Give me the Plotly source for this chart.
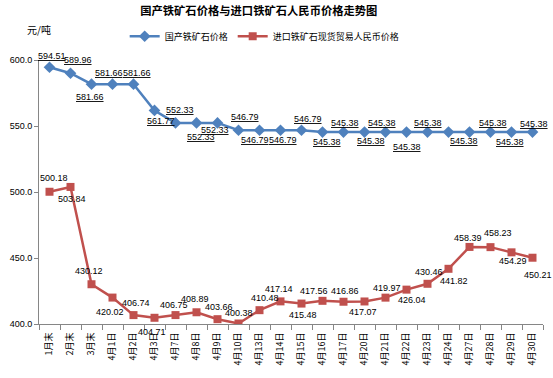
import plotly.graph_objects as go

categories = ["1月末", "2月末", "3月末", "4月1日", "4月2日", "4月3日", "4月7日", "4月8日",
              "4月9日", "4月10日", "4月13日", "4月14日", "4月15日", "4月16日", "4月17日",
              "4月20日", "4月21日", "4月22日", "4月23日", "4月24日", "4月27日", "4月28日",
              "4月29日", "4月30日"]

domestic = [594.51, 589.96, 581.66, 581.66, 581.66, 561.77, 552.33, 552.33, 552.33,
            546.79, 546.79, 546.79, 546.79, 545.38, 545.38, 545.38, 545.38, 545.38,
            545.38, 545.38, 545.38, 545.38, 545.38, 545.38]

imported = [500.18, 503.84, 430.12, 420.02, 406.74, 404.71, 406.75, 408.89, 403.66,
            400.38, 410.48, 417.14, 415.48, 417.56, 416.86, 417.07, 419.97, 426.04,
            430.46, 441.82, 458.39, 458.23, 454.29, 450.21]

y_ticks = [400, 450, 500, 550, 600]

# label placement (pixel offsets from each point)
dom_shift = [(2, 11), (7, 13), (-2, -13), (-4, 11), (3, 11), (6, -11), (4, 13), (4, -14),
             (-3, -7), (6, 13), (-5, -10), (2, -10), (6, 11), (4, -10), (1, 9), (6, -9),
             (-4, 9), (0, -15), (0, 9), None, (-6, -9), (2, 9), (-2, -10), (1, 8)]
imp_shift = [(4, 14), (1, -12), (-3, 13), (-3, -14), (2, 12), (-3, -14), (-2, 10), (-2, 13),
             (1, 12), (0, 11), (5, 12), (-2, 12), (1, -11), (-9, 10), (1, 11), (-2, -11),
             (1, 10), (5, -10), (1, 12), (5, -12), (-2, 9), (7, 14), (1, -9), (5, -17)]

BLUE = "#4F81BD"
RED = "#C0504D"
FONT = "Liberation Sans, Noto Sans CJK SC"
CJK = "Noto Sans CJK SC, Liberation Sans"

fig = go.Figure()
fig.add_trace(go.Scatter(
    x=categories, y=domestic, name="国产铁矿石价格", mode="lines+markers",
    line=dict(color=BLUE, width=2.5),
    marker=dict(symbol="diamond", size=9, color=BLUE),
))
fig.add_trace(go.Scatter(
    x=categories, y=imported, name="进口铁矿石现货贸易人民币价格", mode="lines+markers",
    line=dict(color=RED, width=2.5),
    marker=dict(symbol="square", size=8, color=RED),
))

annotations = []
for c, v, s in zip(categories, domestic, dom_shift):
    if s is None:
        continue
    annotations.append(dict(x=c, y=v, xref="x", yref="y", text="<u>%.2f</u>" % v,
                            showarrow=False, xshift=s[0], yshift=s[1],
                            font=dict(family=FONT, size=9, color="#000000")))
for c, v, s in zip(categories, imported, imp_shift):
    annotations.append(dict(x=c, y=v, xref="x", yref="y", text="%.2f" % v,
                            showarrow=False, xshift=s[0], yshift=s[1],
                            font=dict(family=FONT, size=9, color="#000000")))
annotations.append(dict(x=0, y=1.114, xref="paper", yref="paper", text="元/吨",
                        showarrow=False, xanchor="center", yanchor="middle",
                        font=dict(family=CJK, size=10, color="#000000")))

fig.update_layout(
    width=553, height=378,
    margin=dict(l=35, r=10, t=60, b=54),
    paper_bgcolor="white", plot_bgcolor="white",
    title=dict(text="<b>国产铁矿石价格与进口铁矿石人民币价格走势图</b>", x=0.468, xanchor="center",
               y=0.97, yanchor="middle", font=dict(family=CJK, size=11.3, color="#000000")),
    showlegend=True,
    legend=dict(orientation="h", x=0.17, xanchor="left", y=1.09, yanchor="middle",
                font=dict(family=CJK, size=9, color="#000000"), itemwidth=30,
                bgcolor="rgba(0,0,0,0)"),
    annotations=annotations,
    font=dict(family=FONT),
)
fig.update_xaxes(
    type="category", range=[-0.5, len(categories) - 0.5],
    showline=True, linecolor="#868686", linewidth=1,
    ticks="outside", tickson="boundaries", ticklen=5, tickcolor="#868686",
    tickangle=-90, showgrid=False, zeroline=False, ticklabelstandoff=4,
    tickfont=dict(family=CJK, size=9, color="#000000"),
)
fig.update_yaxes(
    range=[400, 600], tickvals=y_ticks, ticktext=["%.1f" % t for t in y_ticks],
    showline=True, linecolor="#868686", linewidth=1,
    ticks="outside", ticklen=4, tickcolor="#868686",
    showgrid=False, zeroline=False,
    tickfont=dict(family=FONT, size=9, color="#000000"),
)

fig.write_html("out.html", config={"displayModeBar": False},
               post_script="document.body.style.margin='0';document.body.style.overflow='hidden';")
